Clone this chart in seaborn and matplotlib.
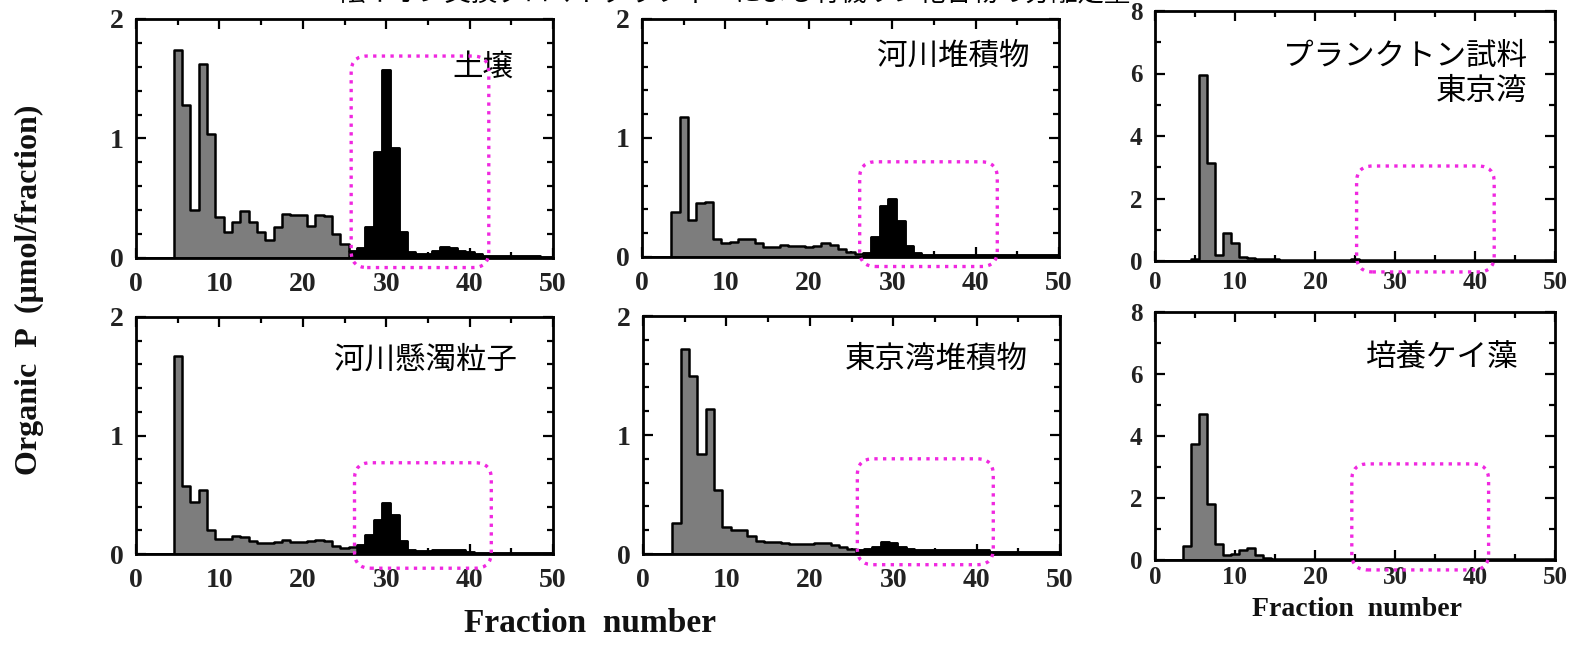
import numpy as np
import pandas as pd
import matplotlib
matplotlib.use("Agg")
import matplotlib.pyplot as plt
import seaborn as sns
from matplotlib.patches import FancyBboxPatch
from matplotlib.transforms import IdentityTransform
from matplotlib.ticker import MultipleLocator

sns.set_theme(style="white")
plt.rcParams['font.family'] = ['Liberation Serif', 'DejaVu Serif']

# ---------------- data (fraction number -> organic P, µmol/fraction) ----------------
fractions = np.arange(1, 51)

soil_start = 5
soil = [1.74, 1.28, 0.40, 1.62, 1.04, 0.34, 0.22, 0.30, 0.39, 0.30, 0.22, 0.15,
        0.26, 0.37, 0.36, 0.36, 0.27, 0.36, 0.35, 0.20, 0.12, 0.06, 0.08, 0.26,
        0.89, 1.57, 0.92, 0.22, 0.05, 0.03, 0.03, 0.06, 0.09, 0.08, 0.06, 0.05,
        0.03, 0.02, 0.02, 0.02, 0.02, 0.02, 0.02, 0.02, 0.01, 0.01]

river_sed_start = 4
river_sed = [0.38, 1.18, 0.31, 0.45, 0.46, 0.15, 0.12, 0.13, 0.15, 0.15, 0.12, 0.08,
             0.08, 0.10, 0.09, 0.09, 0.08, 0.09, 0.12, 0.10, 0.07, 0.04, 0.025, 0.03,
             0.17, 0.43, 0.49, 0.30, 0.09, 0.03, 0.02, 0.02, 0.02, 0.02, 0.02, 0.02,
             0.02, 0.02, 0.015, 0.015, 0.015, 0.015, 0.015, 0.015, 0.015, 0.015, 0.015]

plankton_start = 5
plankton = [0.08, 5.95, 3.14, 0.18, 0.91, 0.59, 0.13, 0.10, 0.06, 0.05, 0.07, 0.04,
            0.02, 0.02, 0.02, 0.02, 0.02, 0.02, 0.02, 0.03, 0.05, 0.04, 0.02, 0.02,
            0.02, 0.02, 0.02, 0.02, 0.02, 0.02, 0.02, 0.02, 0.02, 0.02, 0.02, 0.02,
            0.02, 0.02, 0.02, 0.02, 0.02, 0.02, 0.02, 0.02, 0.02, 0.02]

river_susp_start = 5
river_susp = [1.67, 0.57, 0.44, 0.54, 0.20, 0.13, 0.13, 0.15, 0.14, 0.11, 0.09, 0.09,
              0.10, 0.12, 0.10, 0.10, 0.11, 0.12, 0.11, 0.07, 0.05, 0.06, 0.08, 0.16,
              0.29, 0.43, 0.33, 0.11, 0.03, 0.025, 0.025, 0.03, 0.03, 0.03, 0.03, 0.02,
              0.01, 0.01, 0.01, 0.01, 0.01, 0.01, 0.01, 0.01, 0.01, 0.01]

tokyo_sed_start = 4
tokyo_sed = [0.26, 1.72, 1.50, 0.84, 1.22, 0.54, 0.23, 0.20, 0.20, 0.15, 0.11, 0.10,
             0.10, 0.09, 0.085, 0.085, 0.085, 0.095, 0.095, 0.075, 0.055, 0.04, 0.035,
             0.04, 0.06, 0.10, 0.09, 0.055, 0.04, 0.03, 0.03, 0.03, 0.03, 0.03, 0.03,
             0.03, 0.03, 0.03, 0.02, 0.02, 0.02, 0.02, 0.02, 0.02, 0.02, 0.02, 0.02]

diatom_start = 4
diatom = [0.45, 3.73, 4.72, 1.82, 0.52, 0.16, 0.19, 0.32, 0.38, 0.16, 0.05, 0.02,
          0.02, 0.02, 0.02, 0.02, 0.02, 0.02, 0.02, 0.02, 0.02, 0.02, 0.02, 0.02,
          0.02, 0.02, 0.02, 0.02, 0.02, 0.02, 0.02, 0.02, 0.02, 0.02, 0.02, 0.02,
          0.02, 0.02, 0.02, 0.02, 0.02, 0.02, 0.02, 0.02, 0.02, 0.02, 0.02]

labels = ["土壌", "河川堆積物", "プランクトン試料\n東京湾", "河川懸濁粒子", "東京湾堆積物", "培養ケイ藻"]
black_from = [26, 27, 51, 27, 26, 51]   # first fraction drawn in black
y_max = [2, 2, 8, 2, 2, 8]
title_text = "陰イオン交換クロマトグラフィーによる有機リン化合物の分離定量"

series = [(soil, soil_start), (river_sed, river_sed_start), (plankton, plankton_start),
          (river_susp, river_susp_start), (tokyo_sed, tokyo_sed_start), (diatom, diatom_start)]

# highlight boxes (data coords): x0, x1, y0, y1
boxes = [(25.8, 42.3, -0.08, 1.69), (26.1, 42.6, -0.08, 0.80), (25.2, 42.4, -0.35, 3.04),
         (26.2, 42.6, -0.12, 0.77), (25.7, 42.0, -0.09, 0.80), (24.6, 41.7, -0.32, 3.10)]

# ---------------- layout ----------------
W, H = 1574, 646
fig = plt.figure(figsize=(W / 100, H / 100), dpi=100)

# pixel rectangles: left, top, right, bottom
rects = [(136, 19, 553, 258), (642, 19, 1059, 257), (1155, 11, 1555, 261),
         (136, 317, 553, 554), (643, 316, 1060, 554), (1155, 312, 1555, 560)]
# label positions: (x right px, y center px)
label_pos = [(513, 67), (1030, 56), (1527, 74), (517, 360), (1028, 359), (1518, 357)]
xpads = [10, 10, 7, 10, 10, 4]

gray = "#7d7d7d"
magenta = "#f028e0"

axes = []
for i, (rect, (vals, start)) in enumerate(zip(rects, series)):
    l, t, r, b = rect
    ax = fig.add_axes([l / W, 1 - b / H, (r - l) / W, (b - t) / H])
    axes.append(ax)
    full = np.zeros(50)
    full[start - 1:start - 1 + len(vals)] = vals
    df = pd.DataFrame({"fraction": fractions, "P": full})
    sns.histplot(data=df, x="fraction", weights="P", discrete=True, binrange=(1, 50),
                 element="step", fill=True, color=gray, edgecolor="black",
                 linewidth=1.8, alpha=1, ax=ax)
    dfb = df[df["fraction"] >= black_from[i]]
    if len(dfb) > 0:
        sns.histplot(data=dfb, x="fraction", weights="P", discrete=True,
                     binrange=(int(dfb["fraction"].min()), 50),
                     element="step", fill=True, color="black", edgecolor="black",
                     linewidth=1.8, alpha=1, ax=ax)
    ax.set_xlim(0, 50)
    ax.set_ylim(0, y_max[i])
    ax.set_xlabel("")
    ax.set_ylabel("")
    ax.xaxis.set_major_locator(MultipleLocator(10))
    ax.xaxis.set_minor_locator(MultipleLocator(5))
    if y_max[i] == 2:
        ax.yaxis.set_major_locator(MultipleLocator(1))
        ax.yaxis.set_minor_locator(MultipleLocator(0.2))
        fs = 20
    else:
        ax.yaxis.set_major_locator(MultipleLocator(2))
        ax.yaxis.set_minor_locator(MultipleLocator(1))
        fs = 18
    ax.tick_params(which="both", direction="in", top=True, right=True, bottom=True, left=True,
                   width=1.6, color="black")
    ax.tick_params(which="major", length=7, labelsize=fs)
    ax.tick_params(axis="x", which="major", pad=xpads[i])
    ax.tick_params(axis="y", which="major", pad=9)
    ax.tick_params(which="minor", length=4)
    for lab in ax.get_xticklabels() + ax.get_yticklabels():
        lab.set_fontweight("bold")
        lab.set_color("#222222")
    for sp in ax.spines.values():
        sp.set_linewidth(2.0)
        sp.set_color("black")
    ax.set_facecolor("white")
    lx, ly = label_pos[i]
    fig.text(lx / W, 1 - ly / H, labels[i], ha="right", va="center", fontsize=22,
             family=["Noto Sans CJK JP", "DejaVu Sans"], color="black", linespacing=1.2)

# magenta dotted rounded boxes (converted to pixel coords)
for ax, (x0, x1, y0, y1) in zip(axes, boxes):
    (px0, py0) = ax.transData.transform((x0, y0))
    (px1, py1) = ax.transData.transform((x1, y1))
    patch = FancyBboxPatch((px0, py0), px1 - px0, py1 - py0,
                           boxstyle="round,pad=0,rounding_size=16",
                           transform=IdentityTransform(), fill=False,
                           edgecolor=magenta, linestyle=(0, (1, 1.6)), linewidth=2.4,
                           zorder=10)
    fig.add_artist(patch)

# axis titles
fig.text(29 / W, 1 - 290 / H, "Organic  P  (μmol/fraction)", rotation=90, ha="center",
         va="center", fontsize=23, fontweight="bold", color="#111111")
fig.text(590 / W, 1 - 624 / H, "Fraction  number", ha="center", va="center",
         fontsize=24, fontweight="bold", color="#111111")
fig.text(1357 / W, 1 - 609 / H, "Fraction  number", ha="center", va="center",
         fontsize=20, fontweight="bold", color="#111111")

# cut-off title at the very top (the reference shows only its lower part)
fig.text(735 / W, 1 + 7 / H, title_text, ha="center", va="center", fontsize=19,
         family=["Noto Sans CJK JP", "DejaVu Sans"], color="black")

fig.savefig("out.png", dpi=100, facecolor="white")
